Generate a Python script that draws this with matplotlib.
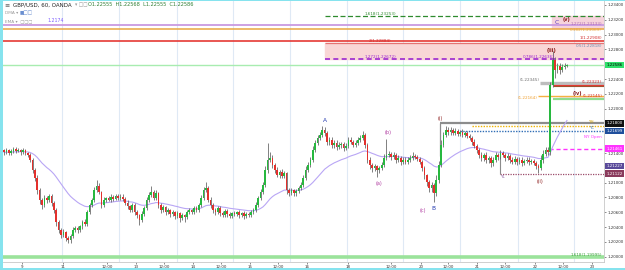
import numpy as np
import pandas as pd
import matplotlib.pyplot as plt
import matplotlib.transforms as mtransforms

# hourly GBP/USD closes (open of each bar = previous close)
first_open = 1.2144
closes = [
    1.2141, 1.2144, 1.2140, 1.2143, 1.2146, 1.2143, 1.2144, 1.2141, 1.2144, 1.2140,
    1.2137, 1.2131, 1.2117, 1.2106, 1.2090, 1.2077, 1.2070, 1.2079, 1.2077, 1.2082,
    1.2073, 1.2063, 1.2047, 1.2036, 1.2029, 1.2033, 1.2025, 1.2023, 1.2028, 1.2036,
    1.2039, 1.2036, 1.2041, 1.2047, 1.2044, 1.2060, 1.2070, 1.2077, 1.2090, 1.2096,
    1.2087, 1.2070, 1.2077, 1.2079, 1.2077, 1.2081, 1.2078, 1.2082, 1.2079, 1.2081,
    1.2078, 1.2073, 1.2068, 1.2063, 1.2070, 1.2060, 1.2056, 1.2050, 1.2058, 1.2066,
    1.2077, 1.2083, 1.2087, 1.2079, 1.2086, 1.2070, 1.2063, 1.2067, 1.2060, 1.2063,
    1.2058, 1.2060, 1.2055, 1.2059, 1.2052, 1.2056, 1.2054, 1.2060, 1.2063, 1.2060,
    1.2066, 1.2063, 1.2070, 1.2079, 1.2090, 1.2093, 1.2077, 1.2070, 1.2063, 1.2060,
    1.2066, 1.2059, 1.2056, 1.2062, 1.2058, 1.2055, 1.2059, 1.2058, 1.2060, 1.2056,
    1.2059, 1.2055, 1.2058, 1.2056, 1.2060, 1.2063, 1.2070, 1.2079, 1.2087, 1.2097,
    1.2117, 1.2131, 1.2133, 1.2124, 1.2117, 1.2110, 1.2114, 1.2109, 1.2113, 1.2090,
    1.2086, 1.2090, 1.2086, 1.2089, 1.2093, 1.2097, 1.2106, 1.2117, 1.2124, 1.2131,
    1.2144, 1.2154, 1.2160, 1.2164, 1.2171, 1.2167, 1.2155, 1.2158, 1.2151, 1.2154,
    1.2148, 1.2151, 1.2152, 1.2147, 1.2150, 1.2158, 1.2155, 1.2151, 1.2154, 1.2158,
    1.2160, 1.2164, 1.2151, 1.2131, 1.2124, 1.2120, 1.2122, 1.2117, 1.2120, 1.2124,
    1.2133, 1.2137, 1.2139, 1.2135, 1.2137, 1.2131, 1.2133, 1.2128, 1.2131, 1.2128,
    1.2131, 1.2133, 1.2136, 1.2135, 1.2132, 1.2128, 1.2120, 1.2110, 1.2101, 1.2093,
    1.2097, 1.2086, 1.2104, 1.2124, 1.2151, 1.2164, 1.2171, 1.2168, 1.2171, 1.2167,
    1.2170, 1.2166, 1.2168, 1.2164, 1.2167, 1.2163, 1.2160, 1.2155, 1.2150, 1.2144,
    1.2137, 1.2133, 1.2137, 1.2131, 1.2133, 1.2127, 1.2131, 1.2137, 1.2135, 1.2140,
    1.2137, 1.2133, 1.2136, 1.2131, 1.2128, 1.2132, 1.2128, 1.2131, 1.2127, 1.2129,
    1.2131, 1.2128, 1.2129, 1.2127, 1.2122, 1.2120, 1.2131, 1.2139, 1.2144, 1.2141,
    1.2232, 1.2266, 1.2252, 1.2258, 1.2252, 1.2256, 1.2258, 1.22586,
]
# wick lengths above / below the body, in pips
wick_up = [
    2, 3, 2, 3, 2, 2, 3, 2, 3, 2,  2, 3, 2, 3, 4, 3, 2, 4, 3, 3,
    3, 2, 3, 2, 3, 4, 2, 3, 3, 4,  3, 3, 2, 3, 4, 3, 3, 2, 4, 8,
    3, 2, 3, 2, 3, 3, 2, 3, 2, 3,  3, 2, 3, 2, 3, 2, 3, 2, 4, 3,
    3, 4, 8, 3, 4, 2, 3, 3, 2, 3,  2, 3, 2, 3, 2, 3, 2, 3, 3, 2,
    3, 2, 3, 4, 4, 8, 2, 3, 2, 3,  3, 2, 3, 3, 2, 3, 2, 3, 2, 3,
    2, 3, 2, 3, 3, 3, 4, 3, 4, 4,  6, 23, 8, 4, 3, 4, 3, 4, 3, 2,
    3, 3, 2, 3, 3, 4, 4, 5, 4, 4,  5, 4, 5, 4, 6, 4, 3, 4, 3, 4,
    3, 4, 3, 3, 4, 4, 3, 3, 4, 3,  4, 6, 3, 2, 3, 2, 3, 2, 3, 4,
    6, 22, 4, 3, 4, 3, 4, 3, 3, 3,  3, 4, 5, 3, 3, 2, 2, 3, 2, 3,
    4, 2, 6, 5, 6, 5, 6, 4, 4, 3,  4, 3, 3, 4, 3, 3, 3, 3, 4, 2,
    3, 4, 3, 4, 3, 3, 4, 5, 3, 4,  3, 3, 4, 3, 3, 4, 3, 4, 3, 3,
    4, 3, 3, 3, 2, 3, 6, 5, 4, 4,  4, 12, 4, 4, 3, 4, 3, 2,
]
wick_dn = [
    3, 2, 3, 2, 3, 3, 2, 3, 2, 3,  3, 3, 4, 4, 5, 6, 6, 3, 4, 3,
    4, 4, 5, 4, 4, 3, 4, 5, 4, 3,  3, 4, 3, 3, 3, 3, 3, 3, 3, 3,
    3, 4, 3, 3, 2, 3, 3, 2, 3, 3,  3, 3, 4, 3, 3, 4, 4, 7, 3, 3,
    3, 3, 3, 3, 3, 4, 4, 3, 4, 3,  4, 3, 4, 3, 5, 3, 7, 3, 3, 3,
    3, 3, 3, 3, 3, 3, 3, 4, 4, 4,  3, 4, 3, 3, 4, 3, 3, 3, 3, 4,
    3, 4, 3, 3, 3, 3, 3, 3, 3, 3,  3, 4, 3, 4, 4, 3, 4, 3, 3, 5,
    4, 3, 4, 4, 3, 3, 3, 3, 3, 3,  3, 3, 3, 3, 3, 4, 4, 4, 4, 4,
    4, 3, 4, 4, 3, 3, 3, 3, 3, 3,  3, 3, 4, 4, 5, 5, 4, 10, 4, 3,
    3, 3, 3, 4, 3, 4, 3, 4, 3, 3,  3, 3, 3, 3, 3, 3, 4, 5, 5, 5,
    5, 12, 4, 4, 3, 3, 3, 3, 3, 3,  3, 3, 3, 3, 3, 3, 3, 4, 3, 4,
    4, 4, 4, 4, 4, 6, 4, 3, 4, 3,  3, 4, 3, 4, 3, 3, 4, 3, 4, 3,
    3, 4, 3, 3, 4, 7, 3, 4, 3, 3,  3, 3, 10, 4, 5, 3, 3, 2,
]

x_tick_pos = [7.6, 24.8, 43.4, 55.6, 67.4, 79.6, 91.4, 103.6, 115.4, 127.6,
              144.8, 163.0, 175.6, 187.0, 199.2, 211.0, 223.6, 235.4, 247.6]
x_tick_labels = ['9', '11', '12:00', '13', '12:00', '14', '12:00', '15', '12:00', '16',
                 '18', '12:00', '20', '12:00', '21', '12:00', '22', '12:00', '23']
grid_x = [24.4, 48.4, 72.8, 96.4, 120.4, 144.4, 168.0, 192.0, 216.4, 240.0]
y_ticks = [1.200, 1.202, 1.204, 1.206, 1.208, 1.210, 1.214, 1.220, 1.222, 1.224,
           1.228, 1.230, 1.232, 1.234]

pip = 0.0001
c = np.array(closes)
o = np.r_[first_open, c[:-1]]
h = np.maximum(o, c) + np.array(wick_up) * pip
l = np.minimum(o, c) - np.array(wick_dn) * pip
idx = np.arange(len(c))
ema = pd.Series(c).ewm(span=30, adjust=False).mean().values

fig = plt.figure(figsize=(6.25, 2.7), dpi=100)
ax = fig.add_axes([3 / 625, 8 / 270, 601 / 625, 262 / 270])
ax.set_xlim(-0.42, 252.6)
ax.set_ylim(1.19928, 1.234675)

for gx in grid_x:
    ax.axvline(gx, color='#dfe9f5', lw=0.8, zorder=0)

# fib / level lines
ax.axhspan(1.22672, 1.22884, xmin=(135 + 0.42) / 253.02, color='#f9d6d6', zorder=1)
ax.axhspan(1.23089, 1.23253, xmin=(230.5 + 0.42) / 253.02, color='#f6d3dc', zorder=1)
ax.axhline(1.23133, color='#c99ae0', lw=1.3, zorder=2)
ax.axhline(1.23069, color='#e9a640', lw=1.1, zorder=2)
ax.axhline(1.22908, color='#e53935', lw=1.2, zorder=2)
ax.hlines(1.22884, 135, 252.6, color='#e57373', lw=0.9, zorder=2)
ax.hlines(1.23253, 135, 252.6, color='#2e8b2e', lw=0.9, ls=(0, (4, 2)), zorder=2)
ax.hlines(1.22672, 135, 252.6, color='#9c27d0', lw=1.2, ls=(0, (3, 2)), zorder=2)
ax.axhline(1.22586, color='#a8ecb0', lw=1.0, zorder=2)
ax.axhline(1.19995, color='#9be39b', lw=2.6, zorder=2)

ax.hlines(1.22345, 225.7, 252.6, color='#bdbdbd', lw=2.4, zorder=2)
ax.hlines(1.22323, 231, 252.6, color='#e53935', lw=0.8, zorder=2)
ax.hlines(1.22300, 231, 252.6, color='#a0522d', lw=0.8, zorder=2)
ax.hlines(1.22164, 224.8, 252.6, color='#f5b041', lw=1.0, zorder=2)
ax.hlines(1.22145, 233.5, 252.6, color='#d32f2f', lw=0.9, zorder=2)
ax.hlines(1.22125, 231, 252.6, color='#8fdc8f', lw=1.6, zorder=2)

ax.hlines(1.21800, 183.6, 252.6, color='#8c8c8c', lw=1.6, zorder=2)
ax.vlines(183.6, 1.2136, 1.21800, color='#8c8c8c', lw=0.9, zorder=2)
ax.hlines(1.21759, 197, 252.6, color='#f0b400', lw=1.0, ls=(0, (1, 1)), zorder=2)
ax.hlines(1.21699, 192, 252.6, color='#2f6db5', lw=1.0, ls=(0, (1, 1)), zorder=2)
ax.hlines(1.21461, 229.5, 252.6, color='#ff33ff', lw=1.0, ls=(0, (3, 2)), zorder=2)
ax.hlines(1.21122, 209, 252.6, color='#9c4a6a', lw=0.9, ls=(0, (1, 1)), zorder=2)
ax.vlines(209, 1.21122, 1.2140, color='#8c8c8c', lw=0.8, zorder=2)

# EMA and candles
ax.plot(idx, ema, color='#b9a6f5', lw=0.8, zorder=3)
up = c >= o
ax.vlines(idx, l, h, color='#5e5e5e', lw=0.55, zorder=4)
ax.bar(idx, np.maximum(np.abs(c - o), 0.00003), bottom=np.minimum(o, c), width=0.7,
       color=np.where(up, '#27b83f', '#e3312d'), linewidth=0, zorder=5)

fs = 3.0
def lab(x, y, s, col, ha='center', va='center', size=fs, weight='normal'):
    ax.text(x, y, s, color=col, fontsize=size, ha=ha, va=va, zorder=6, fontweight=weight)

lab(158.3, 1.23253, '1.618(1.23253)', '#2e8b2e', va='bottom')
lab(158.3, 1.22884, '2(1.22884)', '#d32f2f', va='bottom')
lab(158.3, 1.22672, '1.272(1.22672)', '#9c27d0', va='bottom')
lab(225.3, 1.22672, '0.786(1.22636)', '#9c27d0', va='bottom')
lab(251.8, 1.23140, '1.272(1.23133)', '#b06ab3', ha='right')
lab(251.8, 1.23060, '0.382(1.23069)', '#e9a640', ha='right')
lab(251.8, 1.22960, '1(1.22908)', '#d32f2f', ha='right')
lab(251.8, 1.22846, '0.5(1.22818)', '#6a90b5', ha='right')
lab(251.8, 1.22330, '(1.22323)', '#d32f2f', ha='right', va='bottom')
lab(251.8, 1.22150, '(1.22145)', '#d32f2f', ha='right', va='bottom')
lab(225.5, 1.22387, '(1.22345)', '#6e6e6e', ha='right')
lab(224.8, 1.22150, '(1.22164)', '#f0a030', ha='right')
lab(251.8, 1.19995, '1.618(1.19995)', '#3aa03a', ha='right', va='bottom')
lab(247.2, 1.21819, 'YH', '#d4a000')
lab(247.2, 1.21738, 'YC', '#2f6db5')
lab(251.8, 1.21617, 'NY Open', '#ff33ff', ha='right')
lab(209.7, 1.21076, 'YL', '#8a5aa0')

lab(135.2, 1.21833, 'A', '#2339b0', size=4.2)
lab(180.6, 1.20657, 'B', '#2339b0', size=4.2)
lab(232.8, 1.23157, 'C', '#5b3cc4', size=4.2)
lab(157.9, 1.20982, '(a)', '#b03aa0', size=3.6)
lab(161.7, 1.21671, '(b)', '#b03aa0', size=3.6)
lab(176.4, 1.20630, '(c)', '#b03aa0', size=3.6)
lab(183.6, 1.21873, '(i)', '#8b1a1a', size=3.6)
lab(225.7, 1.21009, '(ii)', '#8b1a1a', size=3.6)
lab(230.3, 1.22792, '(iii)', '#8b1a1a', size=3.6, weight='bold')
lab(241.3, 1.22211, '(iv)', '#8b1a1a', size=3.6, weight='bold')
lab(237.0, 1.23200, '(v)', '#8b1a1a', size=3.6, weight='bold')

# axes styling
for s in ['top', 'left']:
    ax.spines[s].set_visible(False)
ax.spines['right'].set_color('#c8c8c8')
ax.spines['bottom'].set_color('#c8c8c8')
ax.spines['right'].set_linewidth(0.6)
ax.spines['bottom'].set_linewidth(0.6)
ax.yaxis.tick_right()
ax.set_yticks(y_ticks, ['%.5f' % v for v in y_ticks])
ax.set_xticks(x_tick_pos, x_tick_labels)
ax.tick_params(axis='both', labelsize=2.9, length=1.5, width=0.4, pad=1, colors='#333333')

trans = mtransforms.blended_transform_factory(ax.transAxes, ax.transData)
boxes = [(1.22586, '1.22586', '#2ee06a', 'black'), (1.21800, '1.21800', '#111111', 'white'),
         (1.21699, '1.21699', '#1f4f9c', 'white'), (1.21461, '1.21461', '#ff33ff', 'white'),
         (1.21227, '1.21227', '#5a4a9a', 'white'), (1.21122, '1.21122', '#8a3a5c', 'white')]
for price, txt, bg, fg in boxes:
    ax.text(1.004, price, txt, transform=trans, fontsize=2.9, color=fg, va='center', ha='left',
            clip_on=False, zorder=7, bbox=dict(boxstyle='square,pad=0.3', fc=bg, ec='none'))

# header legend
fig.text(4 / 625, 1 - 5 / 270, '\u2261', fontsize=4.5, va='center', color='#555555')
fig.text(13 / 625, 1 - 5 / 270, 'GBP/USD, 60, OANDA', fontsize=4.0, va='center', color='#222222')
fig.text(75 / 625, 1 - 5 / 270, '\u25be \u25a1\u25a1', fontsize=3.3, va='center', color='#999999')
fig.text(88 / 625, 1 - 5 / 270, 'O1.22555  H1.22568  L1.22555  C1.22586', fontsize=3.6,
         va='center', color='#2e7d32')
fig.text(5 / 625, 1 - 13 / 270, 'DMA \u25be', fontsize=3.1, va='center', color='#9a9a9a')
fig.text(20 / 625, 1 - 13 / 270, '\u25a0\u25a1\u25a1', fontsize=3.3, va='center', color='#6a8fd0')
fig.text(5 / 625, 1 - 21 / 270, 'EMA \u25be  \u25a1\u25a1\u25a1', fontsize=3.1, va='center', color='#9a9a9a')
fig.text(47 / 625, 1 - 21 / 270, '1.2174', fontsize=3.3, va='center', color='#7b5cff')

# cyan window frame
for rect in [(0, 0, 2.5 / 625, 1), (0, 0, 1, 2.5 / 270), (0, 1 - 1.2 / 270, 1, 1.2 / 270)]:
    fig.add_artist(plt.Rectangle(rect[:2], rect[2], rect[3], transform=fig.transFigure,
                                 color='#86e3ee', lw=0, zorder=10))

fig.savefig('out.png', dpi=100)
